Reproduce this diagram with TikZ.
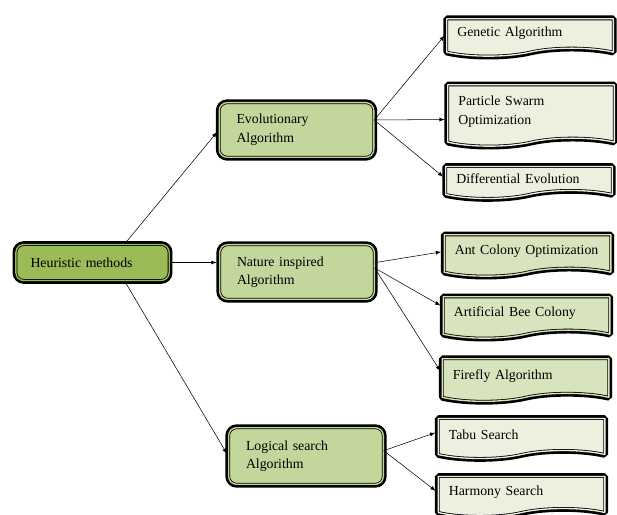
\documentclass[tikz,border=0pt]{standalone}
\usepackage{fontspec}
\setmainfont{Liberation Serif}
\usetikzlibrary{arrows.meta}
\usetikzlibrary{shapes.symbols}

\definecolor{rootgreen}{HTML}{9BBB59}
\definecolor{midgreen}{HTML}{C3D69B}
\definecolor{leafgreen}{HTML}{D7E4BD}
\definecolor{leafpale}{HTML}{EBF1DE}

\tikzset{
  framed/.style={preaction={draw=black,line width=5pt},draw=black,line width=0.6pt,
    double=#1,double distance=1pt,fill=#1},
  boxfont/.style={font=\fontsize{10.4}{14}\selectfont,align=left},
  rootbox/.style={framed=rootgreen,boxfont,rounded corners=6pt,minimum width=115bp,
    minimum height=27bp,text width=93bp,inner xsep=11bp},
  algbox/.style={framed=midgreen,boxfont,rounded corners=6pt,minimum width=116bp,
    minimum height=41bp,text width=90bp,inner xsep=13bp},
  docbox/.style={framed=#1,boxfont,tape,tape bend top=none,tape bend bottom=in and out,
    tape bend height=6bp,minimum width=125bp,text width=109bp,inner xsep=8bp},
}

\begin{document}
\begin{tikzpicture}[>=latex,line join=bevel,]
\useasboundingbox (0bp,0bp) rectangle (462.75bp,386.25bp);
%%
\node (node_0) at (69.38bp,189.38bp) [rootbox] {Heuristic methods};
  \node (node_1) at (222.38bp,288.75bp) [algbox] {Evolutionary\\Algorithm};
  \node (node_2) at (222.75bp,182.25bp) [algbox] {Nature inspired\\Algorithm};
  \node (node_3) at (229.5bp,44.25bp) [algbox,minimum height=42.5bp] {Logical search\\Algorithm};
  \node (node_4) at (397.5bp,361.13bp) [docbox=leafpale,minimum height=28bp] {Genetic Algorithm};
  \node (node_5) at (398.25bp,302.63bp) [docbox=leafpale,minimum height=46bp] {Particle Swarm\\Optimization};
  \node (node_6) at (396.75bp,252.38bp) [docbox=leafpale,minimum height=24bp] {Differential Evolution};
  \node (node_7) at (395.63bp,197.63bp) [docbox=leafgreen,minimum height=31bp] {Ant Colony Optimization};
  \node (node_8) at (394.88bp,151.13bp) [docbox=leafgreen,minimum height=31bp] {Artificial Bee Colony};
  \node (node_9) at (394.13bp,104.25bp) [docbox=leafgreen,minimum height=32bp] {Firefly Algorithm};
  \node (node_10) at (391.13bp,60.38bp) [docbox=leafpale,minimum height=30bp] {Tabu Search};
  \node (node_11) at (391.13bp,16.88bp) [docbox=leafpale,minimum height=30bp] {Harmony Search};
  \draw [black,->,shorten >=2pt] ([xshift=24bp]node_0.north) -- (node_1.west);
  \draw [black,->,shorten >=2pt] (node_0.east) -- (node_0.east -| node_2.west);
  \draw [black,->,shorten >=2pt] ([xshift=24bp]node_0.south) -- (node_3.west);
  \draw [black,->,shorten >=2pt] ([yshift=7.5bp]node_1.east) -- (node_4.west);
  \draw [black,->,shorten >=2pt] ([yshift=7.5bp]node_1.east) -- ([yshift=-6bp]node_5.west);
  \draw [black,->,shorten >=2pt] ([yshift=7.5bp]node_1.east) -- (node_6.west);
  \draw [black,->,shorten >=2pt] ([yshift=7bp]node_2.east) -- (node_7.west);
  \draw [black,->,shorten >=2pt] ([yshift=3bp]node_2.east) -- ([yshift=5bp]node_8.west);
  \draw [black,->,shorten >=2pt] ([yshift=3bp]node_2.east) -- ([yshift=2bp]node_9.west);
  \draw [black,->,shorten >=2pt] ([yshift=4bp]node_3.east) -- ([yshift=2bp]node_10.west);
  \draw [black,->,shorten >=2pt] ([yshift=4bp]node_3.east) -- (node_11.west);
%
\end{tikzpicture}
\end{document}
